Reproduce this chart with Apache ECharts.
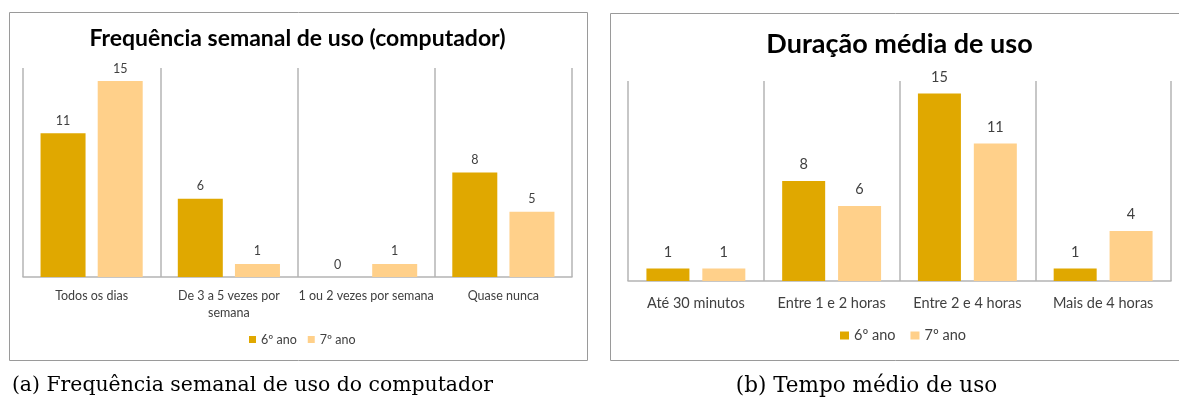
<!DOCTYPE html>
<html>
<head>
<meta charset="utf-8">
<script src="https://cdn.jsdelivr.net/npm/echarts@6/dist/echarts.min.js"></script>
<style>
  html, body { margin: 0; padding: 0; background: #ffffff; }
  #chart { width: 1179px; height: 399px; }
</style>
</head>
<body>
<div id="chart"></div>
<script>
// Weekly frequency of computer use, by school year
const catsFreq = ['Todos os dias', 'De 3 a 5 vezes por\nsemana', '1 ou 2 vezes por semana', 'Quase nunca'];
const freq6 = [11, 6, 0, 8];
const freq7 = [15, 1, 1, 5];

// Average duration of use, by school year
const catsDur = ['Até 30 minutos', 'Entre 1 e 2 horas', 'Entre 2 e 4 horas', 'Mais de 4 horas'];
const dur6 = [1, 8, 15, 1];
const dur7 = [1, 6, 11, 4];

const seriesNames = ['6º ano', '7º ano'];
const colors = ['#E0A800', '#FFD08A'];

const sansFont = 'Lato, "Open Sans", sans-serif';
const serifFont = '"DejaVu Serif", serif';
const gridLine = '#b4b4b4';

function xAxis(gridIndex, cats, fontSize, margin) {
  return {
    type: 'category', gridIndex, data: cats,
    axisLine: { show: true, lineStyle: { color: gridLine, width: 1.5 } },
    axisTick: { show: false },
    splitLine: { show: true, lineStyle: { color: gridLine, width: 1.5 } },
    axisLabel: { color: '#404040', fontFamily: sansFont, fontSize, margin, lineHeight: fontSize + 4, interval: 0 }
  };
}
function yAxis(gridIndex) {
  return { type: 'value', gridIndex, min: 0, max: 16, show: false, splitLine: { show: false } };
}
function bar(name, idx, data, color, barWidth, gap, fontSize, distance) {
  return {
    name, type: 'bar', xAxisIndex: idx, yAxisIndex: idx, data,
    barWidth, barGap: gap, itemStyle: { color },
    label: { show: true, position: 'top', distance, color: '#404040', fontFamily: sansFont, fontSize }
  };
}

const chart = echarts.init(document.getElementById('chart'), null, { renderer: 'canvas' });
chart.setOption({
  animation: false,
  color: colors,
  title: [
    { text: 'Frequência semanal de uso (computador)', left: 297.5, textAlign: 'center', top: 27, padding: 0,
      textStyle: { fontFamily: sansFont, fontWeight: 'bold', fontSize: 23, color: '#000' } },
    { text: 'Duração média de uso', left: 899.5, textAlign: 'center', top: 31, padding: 0,
      textStyle: { fontFamily: sansFont, fontWeight: 'bold', fontSize: 27, color: '#000' } }
  ],
  legend: [
    { data: seriesNames, left: 249, top: 333, itemWidth: 7, itemHeight: 7, itemGap: 11, padding: 0,
      icon: 'rect', textStyle: { fontFamily: sansFont, fontSize: 12.5, color: '#404040' },
      selectedMode: false },
    { data: seriesNames.map(n => n + ' '), left: 840, top: 328, itemWidth: 9, itemHeight: 8, itemGap: 15, padding: 0,
      icon: 'rect', textStyle: { fontFamily: sansFont, fontSize: 14.5, color: '#404040' },
      selectedMode: false, formatter: n => n.trim() }
  ],
  grid: [
    { left: 23, right: 1179 - 572, top: 68, bottom: 399 - 277 },
    { left: 628, right: 1179 - 1171, top: 81, bottom: 399 - 281 }
  ],
  xAxis: [xAxis(0, catsFreq, 12.5, 11), xAxis(1, catsDur, 14.5, 13)],
  yAxis: [yAxis(0), yAxis(1)],
  series: [
    bar(seriesNames[0], 0, freq6, colors[0], 45, '27%', 12.5, 6),
    bar(seriesNames[1], 0, freq7, colors[1], 45, '27%', 12.5, 6),
    bar(seriesNames[0] + ' ', 1, dur6, colors[0], 43, '30%', 14.5, 9),
    bar(seriesNames[1] + ' ', 1, dur7, colors[1], 43, '30%', 14.5, 9)
  ],
  graphic: [
    { type: 'rect', shape: { x: 9.5, y: 12.5, width: 578, height: 348 },
      style: { fill: 'none', stroke: '#9a9a9a', lineWidth: 1 }, silent: true },
    { type: 'rect', shape: { x: 610.5, y: 13.5, width: 580, height: 347 },
      style: { fill: 'none', stroke: '#9a9a9a', lineWidth: 1 }, silent: true },
    { type: 'text', x: 252.5, y: 386,
      style: { text: '(a) Frequência semanal de uso do computador', font: '20.4px ' + serifFont,
               fill: '#000', textAlign: 'center', textVerticalAlign: 'middle' } },
    { type: 'text', x: 866.5, y: 386,
      style: { text: '(b) Tempo médio de uso', font: '21.5px ' + serifFont,
               fill: '#000', textAlign: 'center', textVerticalAlign: 'middle' } }
  ]
});
</script>
</body>
</html>
